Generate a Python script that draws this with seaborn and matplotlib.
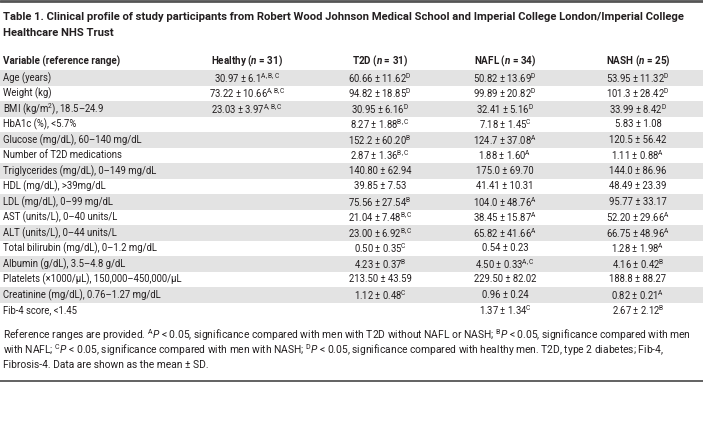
import numpy as np
import seaborn as sns
import matplotlib.pyplot as plt
import matplotlib.font_manager as fm
from matplotlib.colors import ListedColormap
from matplotlib.transforms import blended_transform_factory

sns.set_style("white")

# no hay fuente condensada instalada: Roboto es la mas estrecha disponible
names = {f.name for f in fm.fontManager.ttflist}
FONT = 'Roboto' if 'Roboto' in names else 'Liberation Sans'

plt.rcParams['font.family'] = [FONT, 'DejaVu Sans']
plt.rcParams['mathtext.fontset'] = 'custom'
plt.rcParams['mathtext.rm'] = FONT
plt.rcParams['mathtext.it'] = FONT + ':italic'
plt.rcParams['mathtext.bf'] = FONT + ':bold'
plt.rcParams['mathtext.bfit'] = FONT + ':bold:italic'

# Datos de la tabla
title_lines = ["Table 1. Clinical profile of study participants from Robert Wood Johnson Medical School and Imperial College London/Imperial College",
               "Healthcare NHS Trust"]
headers = ["Variable (reference range)", r"Healthy ($\mathbfit{n}$ = 31)", r"T2D ($\mathbfit{n}$ = 31)",
           r"NAFL ($\mathbfit{n}$ = 34)", r"NASH ($\mathbfit{n}$ = 25)"]
variables = ["Age (years)", "Weight (kg)", r"BMI (kg/m$^{2}$), 18.5–24.9", "HbA1c (%), <5.7%",
             "Glucose (mg/dL), 60–140 mg/dL", "Number of T2D medications", "Triglycerides (mg/dL), 0–149 mg/dL",
             "HDL (mg/dL), >39mg/dL", "LDL (mg/dL), 0–99 mg/dL", "AST (units/L), 0–40 units/L",
             "ALT (units/L), 0–44 units/L", "Total bilirubin (mg/dL), 0–1.2 mg/dL", "Albumin (g/dL), 3.5–4.8 g/dL",
             "Platelets (×1000/μL), 150,000–450,000/μL", "Creatinine (mg/dL), 0.76–1.27 mg/dL", "Fib-4 score, <1.45"]
healthy = ["30.97 ± 6.1", "73.22 ± 10.66", "23.03 ± 3.97", "", "", "", "", "", "", "", "", "", "", "", "", ""]
healthy_sig = ["A,B,C", "A,B,C", "A,B,C", "", "", "", "", "", "", "", "", "", "", "", "", ""]
t2d = ["60.66 ± 11.62", "94.82 ± 18.85", "30.95 ± 6.16", "8.27 ± 1.88", "152.2 ± 60.20", "2.87 ± 1.36",
       "140.80 ± 62.94", "39.85 ± 7.53", "75.56 ± 27.54", "21.04 ± 7.48", "23.00 ± 6.92", "0.50 ± 0.35",
       "4.23 ± 0.37", "213.50 ± 43.59", "1.12 ± 0.48", ""]
t2d_sig = ["D", "D", "D", "B,C", "B", "B,C", "", "", "B", "B,C", "B,C", "C", "B", "", "C", ""]
nafl = ["50.82 ± 13.69", "99.89 ± 20.82", "32.41 ± 5.16", "7.18 ± 1.45", "124.7 ± 37.08", "1.88 ± 1.60",
        "175.0 ± 69.70", "41.41 ± 10.31", "104.0 ± 48.76", "38.45 ± 15.87", "65.82 ± 41.66", "0.54 ± 0.23",
        "4.50 ± 0.33", "229.50 ± 82.02", "0.96 ± 0.24", "1.37 ± 1.34"]
nafl_sig = ["D", "D", "D", "C", "A", "A", "", "", "A", "A", "A", "", "A,C", "", "", "C"]
nash = ["53.95 ± 11.32", "101.3 ± 28.42", "33.99 ± 8.42", "5.83 ± 1.08", "120.5 ± 56.42", "1.11 ± 0.88",
        "144.0 ± 86.96", "48.49 ± 23.39", "95.77 ± 33.17", "52.20 ± 29.66", "66.75 ± 48.96", "1.28 ± 1.98",
        "4.16 ± 0.42", "188.8 ± 88.27", "0.82 ± 0.21", "2.67 ± 2.12"]
nash_sig = ["D", "D", "D", "", "", "A", "", "", "", "A", "A", "A", "B", "", "A", "B"]
footnote = [r"Reference ranges are provided. ${}^{\mathrm{A}}\mathit{P}$ < 0.05, significance compared with men with T2D without NAFL or NASH; ${}^{\mathrm{B}}\mathit{P}$ < 0.05, significance compared with men",
            r"with NAFL; ${}^{\mathrm{C}}\mathit{P}$ < 0.05, significance compared with men with NASH; ${}^{\mathrm{D}}\mathit{P}$ < 0.05, significance compared with healthy men. T2D, type 2 diabetes; Fib-4,",
            "Fibrosis-4. Data are shown as the mean ± SD."]

W, H = 703, 433
fx = lambda p: p / W
fy = lambda p: 1 - p / H
INK = '#231f20'

fig = plt.figure(figsize=(W / 100, H / 100), dpi=100)
rend = fig.canvas.get_renderer()


def fit(t, target):
    # ajustar tamaño de letra al ancho medido en la referencia
    w = t.get_window_extent(rend).width
    t.set_fontsize(t.get_fontsize() * target / w)
    return t.get_fontsize()


# lineas de arriba y abajo
fig.add_artist(plt.Line2D([0, 1], [fy(1), fy(1)], color='#555555', lw=2))
fig.add_artist(plt.Line2D([0, 1], [fy(381), fy(381)], color='#555555', lw=1.3))

t0 = fig.text(fx(3), fy(17), title_lines[0], fontsize=9.6, fontweight='bold', va='center', color=INK)
title_fs = fit(t0, 692)
fig.text(fx(3), fy(33), title_lines[1], fontsize=title_fs, fontweight='bold', va='center', color=INK)

# tamaño de filas a partir de la etiqueta mas larga
probe = fig.text(0, 0, variables[13], fontsize=7.5)
row_fs = fit(probe, 180)
probe.remove()

col_x = [247, 380, 505, 638]
fig.text(fx(3), fy(61), headers[0], fontsize=row_fs * 1.04, fontweight='bold', va='center', color=INK)
for x, h in zip(col_x, headers[1:]):
    fig.text(fx(x), fy(61), h, fontsize=row_fs * 1.04, fontweight='bold', va='center', ha='center', color=INK)

# filas sombreadas con heatmap
top, bottom = 70, 318
ax = fig.add_axes([0, fy(bottom), 1, (bottom - top) / H])
bands = np.array([[i % 2 == 0] for i in range(len(variables))], dtype=float)
sns.heatmap(bands, cmap=ListedColormap(['white', '#e3e3e3']), cbar=False, ax=ax,
            xticklabels=False, yticklabels=False, linewidths=0)
ax.set_axis_off()
tr = blended_transform_factory(fig.transFigure, ax.transData)

for i, v in enumerate(variables):
    ax.text(fx(3), i + 0.5, v, transform=tr, fontsize=row_fs, va='center', color=INK)
    for x, vals, sig in zip(col_x, [healthy, t2d, nafl, nash], [healthy_sig, t2d_sig, nafl_sig, nash_sig]):
        if vals[i] == "":
            continue
        s = vals[i] + (r"$^{\mathrm{%s}}$" % sig[i] if sig[i] else "")
        ax.text(fx(x), i + 0.5, s, transform=tr, fontsize=row_fs, va='center', ha='center', color=INK)

f0 = fig.text(fx(3), fy(335), footnote[0], fontsize=7.8, va='center', color=INK)
foot_fs = fit(f0, 688)
for i, line in enumerate(footnote[1:], start=1):
    fig.text(fx(3), fy(335 + 15 * i), line, fontsize=foot_fs, va='center', color=INK)

plt.savefig("out.png", dpi=100)
